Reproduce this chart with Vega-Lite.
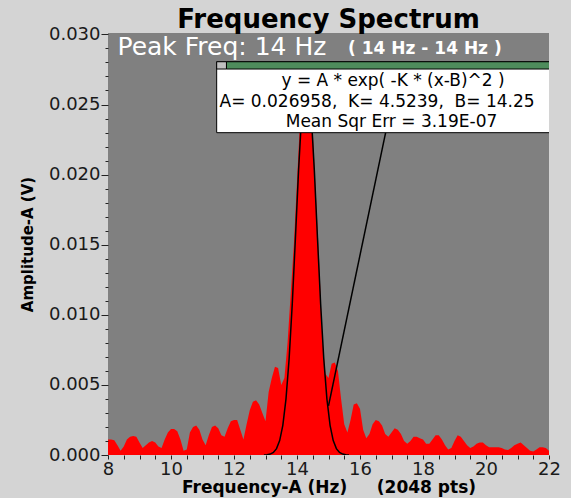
{
  "$schema": "https://vega.github.io/schema/vega-lite/v6.json",
  "width": 441,
  "height": 422,
  "autosize": {"type": "none"},
  "padding": {"left": 108, "top": 33, "right": 22, "bottom": 43},
  "background": "#d4d4d4",
  "view": {"fill": "#808080", "stroke": null},
  "config": {"font": "DejaVu Sans", "axis": {"labelOverlap": false, "labelFlush": false, "labelBound": false}},
  "datasets": {
    "spectrum": [
      {"freq": 8.0, "amp": 0.0011}, {"freq": 8.1, "amp": 0.0011}, {"freq": 8.2, "amp": 0.00105}, {"freq": 8.3, "amp": 0.0007}, {"freq": 8.4, "amp": 0.0003},
      {"freq": 8.5, "amp": 0.0006}, {"freq": 8.6, "amp": 0.0011}, {"freq": 8.7, "amp": 0.0013}, {"freq": 8.8, "amp": 0.00135}, {"freq": 8.9, "amp": 0.0013},
      {"freq": 9.0, "amp": 0.0009}, {"freq": 9.1, "amp": 0.0005}, {"freq": 9.2, "amp": 0.0007}, {"freq": 9.3, "amp": 0.0009}, {"freq": 9.4, "amp": 0.001},
      {"freq": 9.5, "amp": 0.0009}, {"freq": 9.6, "amp": 0.0006}, {"freq": 9.7, "amp": 0.0005}, {"freq": 9.8, "amp": 0.0011}, {"freq": 9.9, "amp": 0.0016},
      {"freq": 10.0, "amp": 0.00185}, {"freq": 10.1, "amp": 0.00185}, {"freq": 10.2, "amp": 0.0017}, {"freq": 10.3, "amp": 0.0011}, {"freq": 10.4, "amp": 0.0003},
      {"freq": 10.5, "amp": 0.0004}, {"freq": 10.6, "amp": 0.0016}, {"freq": 10.7, "amp": 0.002}, {"freq": 10.8, "amp": 0.0021}, {"freq": 10.9, "amp": 0.0018},
      {"freq": 11.0, "amp": 0.0011}, {"freq": 11.1, "amp": 0.0007}, {"freq": 11.2, "amp": 0.0014}, {"freq": 11.3, "amp": 0.002}, {"freq": 11.4, "amp": 0.0021},
      {"freq": 11.5, "amp": 0.0019}, {"freq": 11.6, "amp": 0.0014}, {"freq": 11.7, "amp": 0.0013}, {"freq": 11.8, "amp": 0.0019}, {"freq": 11.9, "amp": 0.0024},
      {"freq": 12.0, "amp": 0.0025}, {"freq": 12.1, "amp": 0.0025}, {"freq": 12.2, "amp": 0.0018}, {"freq": 12.3, "amp": 0.0011}, {"freq": 12.4, "amp": 0.0022},
      {"freq": 12.5, "amp": 0.0032}, {"freq": 12.6, "amp": 0.0038}, {"freq": 12.7, "amp": 0.0039}, {"freq": 12.8, "amp": 0.0036}, {"freq": 12.9, "amp": 0.003},
      {"freq": 13.0, "amp": 0.0024}, {"freq": 13.1, "amp": 0.0045}, {"freq": 13.2, "amp": 0.0055}, {"freq": 13.3, "amp": 0.0063}, {"freq": 13.4, "amp": 0.0062},
      {"freq": 13.5, "amp": 0.005}, {"freq": 13.6, "amp": 0.0055}, {"freq": 13.7, "amp": 0.008}, {"freq": 13.8, "amp": 0.0115}, {"freq": 13.9, "amp": 0.015},
      {"freq": 14.0, "amp": 0.0195}, {"freq": 14.1, "amp": 0.024}, {"freq": 14.2, "amp": 0.027}, {"freq": 14.3, "amp": 0.0275}, {"freq": 14.4, "amp": 0.0255},
      {"freq": 14.5, "amp": 0.023}, {"freq": 14.6, "amp": 0.0185}, {"freq": 14.7, "amp": 0.014}, {"freq": 14.8, "amp": 0.0085}, {"freq": 14.9, "amp": 0.0058},
      {"freq": 15.0, "amp": 0.0055}, {"freq": 15.1, "amp": 0.0065}, {"freq": 15.2, "amp": 0.0066}, {"freq": 15.3, "amp": 0.006}, {"freq": 15.4, "amp": 0.004},
      {"freq": 15.5, "amp": 0.0022}, {"freq": 15.6, "amp": 0.0016}, {"freq": 15.7, "amp": 0.0025}, {"freq": 15.8, "amp": 0.0036}, {"freq": 15.9, "amp": 0.0037},
      {"freq": 16.0, "amp": 0.0033}, {"freq": 16.1, "amp": 0.0018}, {"freq": 16.2, "amp": 0.0012}, {"freq": 16.3, "amp": 0.0015}, {"freq": 16.4, "amp": 0.0022},
      {"freq": 16.5, "amp": 0.0025}, {"freq": 16.6, "amp": 0.0024}, {"freq": 16.7, "amp": 0.0021}, {"freq": 16.8, "amp": 0.0015}, {"freq": 16.9, "amp": 0.0013},
      {"freq": 17.0, "amp": 0.0016}, {"freq": 17.1, "amp": 0.0019}, {"freq": 17.2, "amp": 0.0018}, {"freq": 17.3, "amp": 0.0015}, {"freq": 17.4, "amp": 0.001},
      {"freq": 17.5, "amp": 0.0008}, {"freq": 17.6, "amp": 0.001}, {"freq": 17.7, "amp": 0.0013}, {"freq": 17.8, "amp": 0.0013}, {"freq": 17.9, "amp": 0.0012},
      {"freq": 18.0, "amp": 0.0011}, {"freq": 18.1, "amp": 0.0008}, {"freq": 18.2, "amp": 0.0008}, {"freq": 18.3, "amp": 0.0011}, {"freq": 18.4, "amp": 0.0014},
      {"freq": 18.5, "amp": 0.0014}, {"freq": 18.6, "amp": 0.0011}, {"freq": 18.7, "amp": 0.0007}, {"freq": 18.8, "amp": 0.0004}, {"freq": 18.9, "amp": 0.0005},
      {"freq": 19.0, "amp": 0.001}, {"freq": 19.1, "amp": 0.0014}, {"freq": 19.2, "amp": 0.0013}, {"freq": 19.3, "amp": 0.001}, {"freq": 19.4, "amp": 0.0007},
      {"freq": 19.5, "amp": 0.0005}, {"freq": 19.6, "amp": 0.0006}, {"freq": 19.7, "amp": 0.0008}, {"freq": 19.8, "amp": 0.0009}, {"freq": 19.9, "amp": 0.0009},
      {"freq": 20.0, "amp": 0.0007}, {"freq": 20.1, "amp": 0.00055}, {"freq": 20.2, "amp": 0.00055}, {"freq": 20.3, "amp": 0.00055}, {"freq": 20.4, "amp": 0.00055},
      {"freq": 20.5, "amp": 0.0005}, {"freq": 20.6, "amp": 0.0004}, {"freq": 20.7, "amp": 0.00035}, {"freq": 20.8, "amp": 0.0005}, {"freq": 20.9, "amp": 0.0007},
      {"freq": 21.0, "amp": 0.0008}, {"freq": 21.1, "amp": 0.0009}, {"freq": 21.2, "amp": 0.0007}, {"freq": 21.3, "amp": 0.0005}, {"freq": 21.4, "amp": 0.0003},
      {"freq": 21.5, "amp": 0.00025}, {"freq": 21.6, "amp": 0.0004}, {"freq": 21.7, "amp": 0.00055}, {"freq": 21.8, "amp": 0.00055}, {"freq": 21.9, "amp": 0.0005},
      {"freq": 22.0, "amp": 0.0003}
    ],
    "fit": [
      {"freq": 12.95, "amp": 0.0000071}, {"freq": 13.05, "amp": 0.000023}, {"freq": 13.15, "amp": 0.000068}, {"freq": 13.25, "amp": 0.000184},
      {"freq": 13.35, "amp": 0.000454}, {"freq": 13.45, "amp": 0.001026}, {"freq": 13.55, "amp": 0.002116}, {"freq": 13.65, "amp": 0.003987},
      {"freq": 13.75, "amp": 0.006861}, {"freq": 13.85, "amp": 0.010786}, {"freq": 13.95, "amp": 0.015489}, {"freq": 14.05, "amp": 0.020319},
      {"freq": 14.15, "amp": 0.024349}, {"freq": 14.25, "amp": 0.026655}, {"freq": 14.3, "amp": 0.026958}, {"freq": 14.35, "amp": 0.026655},
      {"freq": 14.45, "amp": 0.024349}, {"freq": 14.55, "amp": 0.020319}, {"freq": 14.65, "amp": 0.015489}, {"freq": 14.75, "amp": 0.010786},
      {"freq": 14.85, "amp": 0.006861}, {"freq": 14.95, "amp": 0.003987}, {"freq": 15.05, "amp": 0.002116}, {"freq": 15.15, "amp": 0.001026},
      {"freq": 15.25, "amp": 0.000454}, {"freq": 15.35, "amp": 0.000184}, {"freq": 15.45, "amp": 0.000068}, {"freq": 15.55, "amp": 0.000023},
      {"freq": 15.65, "amp": 0.0000071}
    ]
  },
  "layer": [
    {
      "data": {"name": "spectrum"},
      "mark": {"type": "area", "color": "#ff0000", "clip": true},
      "encoding": {
        "x": {
          "field": "freq", "type": "quantitative",
          "scale": {"domain": [8, 22], "nice": false, "zero": false},
          "axis": {
            "values": [8, 8.5, 9, 9.5, 10, 10.5, 11, 11.5, 12, 12.5, 13, 13.5, 14, 14.5, 15, 15.5, 16, 16.5, 17, 17.5, 18, 18.5, 19, 19.5, 20, 20.5, 21, 21.5, 22],
            "tickCount": 100,
            "labelExpr": "datum.value % 2 == 0 ? format(datum.value, 'd') : ''",
            "title": "Frequency-A (Hz)\u00a0\u00a0\u00a0\u00a0\u00a0(2048 pts)",
            "labelFont": "DejaVu Sans", "labelFontSize": 18, "labelColor": "#1a1a1a",
            "labelFlush": false, "labelOverlap": false, "labelPadding": 1,
            "tickSize": 4, "tickColor": "#222222", "domain": false, "grid": false,
            "titleFont": "DejaVu Sans", "titleFontSize": 17, "titleFontWeight": "bold", "titleColor": "#000000", "titlePadding": 1,
            "zindex": 1
          }
        },
        "y": {
          "field": "amp", "type": "quantitative",
          "scale": {"domain": [0, 0.0301], "nice": false},
          "axis": {
            "values": [0, 0.001, 0.002, 0.003, 0.004, 0.005, 0.006, 0.007, 0.008, 0.009, 0.01, 0.011, 0.012, 0.013, 0.014, 0.015, 0.016, 0.017, 0.018, 0.019, 0.02, 0.021, 0.022, 0.023, 0.024, 0.025, 0.026, 0.027, 0.028, 0.029, 0.03],
            "tickCount": 100,
            "labelExpr": "round(datum.value * 1000) % 5 == 0 ? format(datum.value, '.3f') : ''",
            "title": "Amplitude-A (V)",
            "labelFont": "DejaVu Sans", "labelFontSize": 18, "labelColor": "#1a1a1a",
            "labelFlush": false, "labelOverlap": false, "labelBound": false, "labelPadding": 1,
            "tickSize": {"condition": {"test": "round(datum.value * 1000) % 5 == 0", "value": 7}, "value": 3},
            "tickColor": "#222222", "domain": false, "grid": false,
            "titleFont": "DejaVu Sans", "titleFontSize": 15, "titleFontWeight": "bold", "titleColor": "#000000", "titlePadding": 13,
            "zindex": 1
          }
        }
      }
    },
    {
      "data": {"name": "fit"},
      "mark": {"type": "line", "color": "#000000", "strokeWidth": 1.5, "clip": true},
      "encoding": {
        "x": {"field": "freq", "type": "quantitative"},
        "y": {"field": "amp", "type": "quantitative"}
      }
    },
    {
      "data": {"values": [{}]},
      "mark": {"type": "rule", "color": "#000000", "strokeWidth": 1.5, "clip": true},
      "encoding": {
        "x": {"datum": 15.0, "type": "quantitative"},
        "y": {"datum": 0.0035, "type": "quantitative"},
        "x2": {"datum": 16.86},
        "y2": {"datum": 0.0235}
      }
    },
    {
      "data": {"values": [{}]},
      "mark": {"type": "rect", "fill": "#ffffff", "stroke": "#000000", "strokeWidth": 1, "clip": true},
      "encoding": {
        "x": {"datum": 11.45, "type": "quantitative"},
        "x2": {"datum": 22.7},
        "y": {"datum": 0.02299, "type": "quantitative"},
        "y2": {"datum": 0.02805}
      }
    },
    {
      "data": {"values": [{}]},
      "mark": {"type": "rect", "fill": "#4e8c5c", "stroke": "#000000", "strokeWidth": 1, "clip": true},
      "encoding": {
        "x": {"datum": 11.76, "type": "quantitative"},
        "x2": {"datum": 22.7},
        "y": {"datum": 0.02753, "type": "quantitative"},
        "y2": {"datum": 0.02805}
      }
    },
    {
      "data": {"values": [{}]},
      "mark": {"type": "rect", "fill": "#c0c0c0", "stroke": "#000000", "strokeWidth": 1, "clip": true},
      "encoding": {
        "x": {"datum": 11.45, "type": "quantitative"},
        "x2": {"datum": 11.76},
        "y": {"datum": 0.02753, "type": "quantitative"},
        "y2": {"datum": 0.02805}
      }
    },
    {
      "data": {"values": [{}]},
      "mark": {"type": "text", "text": "y = A * exp( -K * (x-B)^2 )", "font": "DejaVu Sans", "fontSize": 17, "color": "#000000", "align": "center", "baseline": "middle", "clip": true},
      "encoding": {
        "x": {"datum": 17.05, "type": "quantitative"},
        "y": {"datum": 0.0267, "type": "quantitative"}
      }
    },
    {
      "data": {"values": [{}]},
      "mark": {"type": "text", "text": "A= 0.026958,\u00a0 K= 4.5239,\u00a0 B= 14.25", "font": "DejaVu Sans", "fontSize": 17, "color": "#000000", "align": "left", "baseline": "middle", "clip": true},
      "encoding": {
        "x": {"datum": 11.54, "type": "quantitative"},
        "y": {"datum": 0.0252, "type": "quantitative"}
      }
    },
    {
      "data": {"values": [{}]},
      "mark": {"type": "text", "text": "Mean Sqr Err = 3.19E-07", "font": "DejaVu Sans", "fontSize": 17, "color": "#000000", "align": "center", "baseline": "middle", "clip": true},
      "encoding": {
        "x": {"datum": 17.0, "type": "quantitative"},
        "y": {"datum": 0.02377, "type": "quantitative"}
      }
    },
    {
      "data": {"values": [{}]},
      "mark": {"type": "text", "text": "Peak Freq: 14 Hz", "font": "DejaVu Sans", "fontSize": 25, "color": "#ffffff", "align": "left", "baseline": "alphabetic"},
      "encoding": {
        "x": {"datum": 8.3, "type": "quantitative"},
        "y": {"datum": 0.02855, "type": "quantitative"}
      }
    },
    {
      "data": {"values": [{}]},
      "mark": {"type": "text", "text": "( 14 Hz - 14 Hz )", "font": "DejaVu Sans", "fontSize": 17, "fontWeight": "bold", "color": "#ffffff", "align": "left", "baseline": "alphabetic"},
      "encoding": {
        "x": {"datum": 15.62, "type": "quantitative"},
        "y": {"datum": 0.0286, "type": "quantitative"}
      }
    },
    {
      "data": {"values": [{}]},
      "mark": {"type": "text", "text": "Frequency Spectrum", "font": "DejaVu Sans", "fontSize": 26, "fontWeight": "bold", "color": "#000000", "align": "center", "baseline": "alphabetic"},
      "encoding": {
        "x": {"datum": 15.0, "type": "quantitative"},
        "y": {"datum": 0.03046, "type": "quantitative"}
      }
    }
  ]
}
